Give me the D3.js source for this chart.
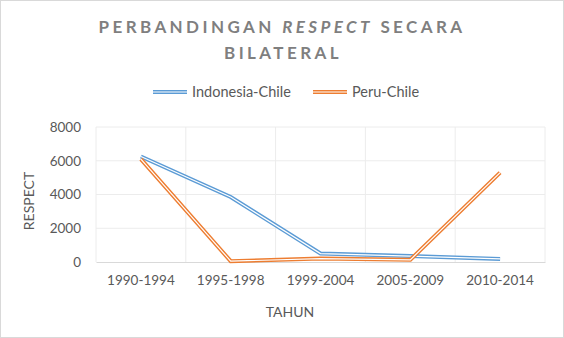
<!DOCTYPE html>
<html><head><meta charset="utf-8">
<script src="https://cdn.jsdelivr.net/npm/d3@7"></script>
<style>body{margin:0;background:#fff}svg{display:block}text{font-family:Lato,"Open Sans",sans-serif}</style>
</head><body>
<svg id="c" width="564" height="338"></svg>
<script>
const categories = ["1990-1994","1995-1998","1999-2004","2005-2009","2010-2014"];
const indonesiaChile = [6250, 3850, 500, 350, 180];
const peruChile = [6100, 50, 200, 130, 5300];
const yTicks = [0, 2000, 4000, 6000, 8000];
const seriesNames = ["Indonesia-Chile","Peru-Chile"];
const colors = ["#5B9BD5","#ED7D31"];

const svg = d3.select("#c");
svg.append("rect").attr("x",0.5).attr("y",0.5).attr("width",563).attr("height",337).attr("fill","#fff").attr("stroke","#d9d9d9");

const L=96, R=545, T=127, B=262;
const x = d3.scaleBand().domain(categories).range([L,R]);
const y = d3.scaleLinear().domain([0,8000]).range([B,T]);

// gridlines
svg.append("g").selectAll("line").data(yTicks.slice(1)).join("line")
  .attr("x1",L).attr("x2",R).attr("y1",d=>y(d)).attr("y2",d=>y(d)).attr("stroke","#ececec");
const bounds = categories.map(c=>x(c)).concat([R]);
svg.append("g").selectAll("line").data(bounds).join("line")
  .attr("x1",d=>d).attr("x2",d=>d).attr("y1",T).attr("y2",B).attr("stroke","#ececec");

// axes
const yAxis = d3.axisLeft(y).tickValues(yTicks).tickFormat(d3.format("d")).tickSize(0).tickPadding(15);
const gy = svg.append("g").attr("transform",`translate(${L},0)`).call(yAxis);
gy.select(".domain").remove();
gy.selectAll("text").attr("fill","#595959").attr("font-size",13.5);

const xAxis = d3.axisBottom(x).tickSize(0).tickPadding(13);
const gx = svg.append("g").attr("transform",`translate(0,${B})`).call(xAxis);
gx.select(".domain").attr("stroke","#d9d9d9");
gx.selectAll("text").attr("fill","#595959").attr("font-size",13.5);

// lines
const line = d3.line().x((d,i)=>x(categories[i])+x.bandwidth()/2).y(d=>y(d));
[indonesiaChile, peruChile].forEach((s,i)=>{
  svg.append("path").attr("d",line(s)).attr("fill","none").attr("stroke",colors[i]).attr("stroke-width",4).attr("stroke-linejoin","miter");
  svg.append("path").attr("d",line(s)).attr("fill","none").attr("stroke","#fff").attr("stroke-width",1.2).attr("stroke-linejoin","miter");
});

// title
const title = svg.append("text").attr("x",282).attr("y",33).attr("text-anchor","middle")
  .attr("font-size",17).attr("font-weight","bold").attr("fill","#7f7f7f").attr("letter-spacing",3.4);
title.append("tspan").text("PERBANDINGAN ");
title.append("tspan").attr("font-style","italic").text("RESPECT");
title.append("tspan").text(" SECARA");
svg.append("text").attr("x",283).attr("y",59).attr("text-anchor","middle")
  .attr("font-size",17).attr("font-weight","bold").attr("fill","#7f7f7f").attr("letter-spacing",3.4).text("BILATERAL");

// legend
const legX = [153, 313];
seriesNames.forEach((n,i)=>{
  const g = svg.append("g").attr("transform",`translate(${legX[i]},92)`);
  g.append("line").attr("x1",0).attr("x2",34).attr("stroke",colors[i]).attr("stroke-width",4);
  g.append("line").attr("x1",0).attr("x2",34).attr("stroke","#fff").attr("stroke-width",1.2);
  g.append("text").attr("x",39).attr("y",5).attr("font-size",14.5).attr("fill","#595959").text(n);
});

// axis titles
svg.append("text").attr("x",290).attr("y",317).attr("text-anchor","middle").attr("font-size",14).attr("fill","#595959").text("TAHUN");
svg.append("text").attr("transform","translate(34,201) rotate(-90)").attr("text-anchor","middle").attr("font-size",14).attr("fill","#595959").text("RESPECT");
</script>
</body></html>
